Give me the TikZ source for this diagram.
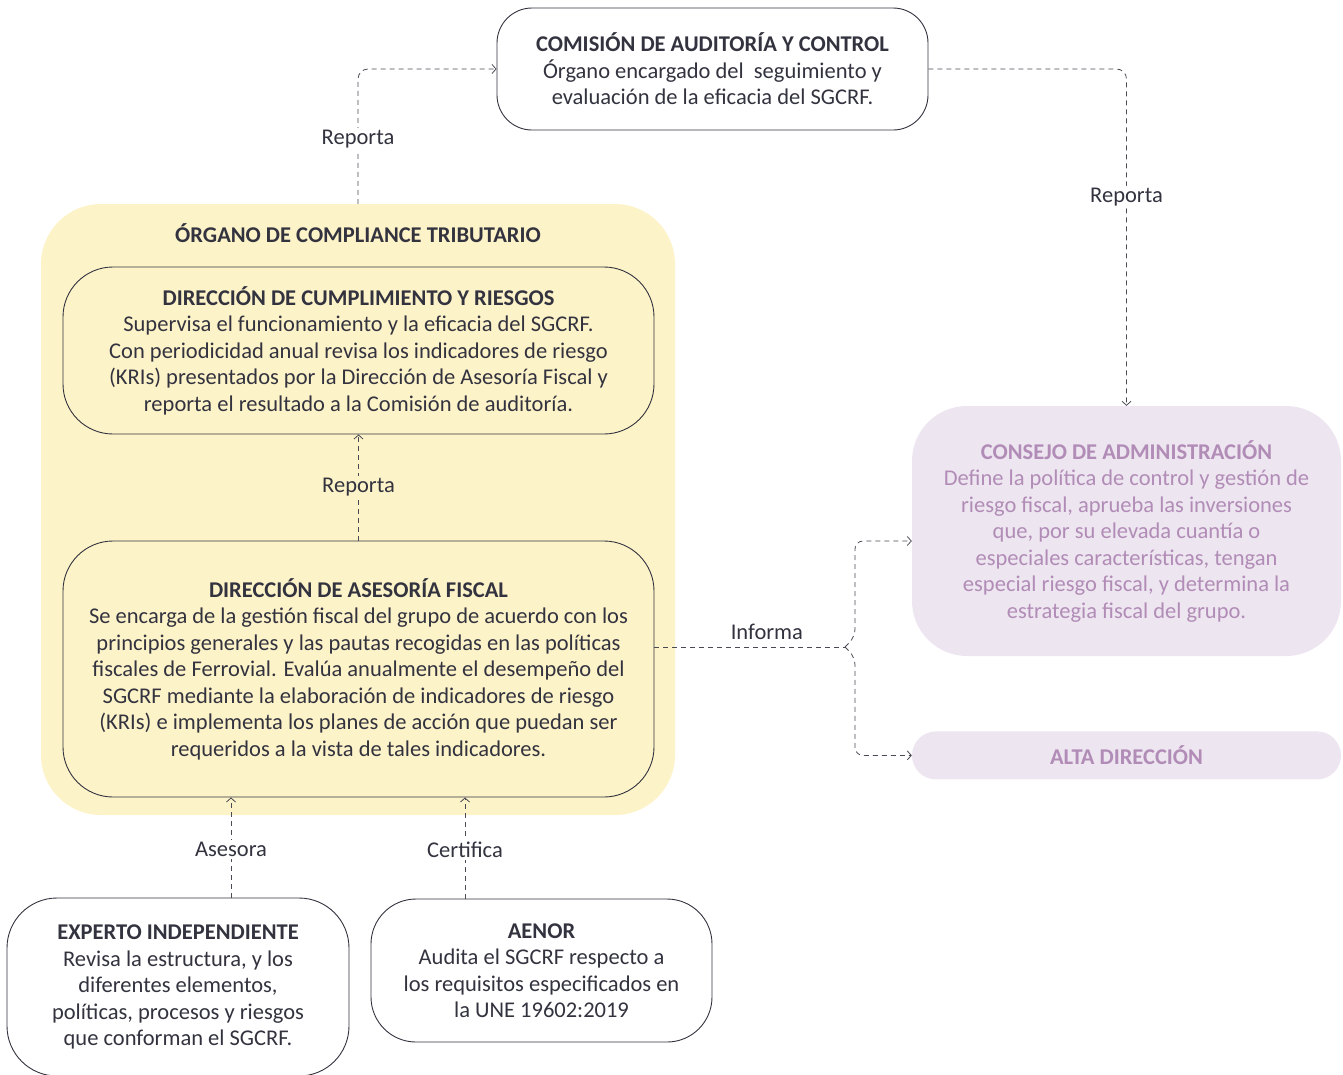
\documentclass[tikz,border=0pt]{standalone}
\usepackage{fontspec}
\setmainfont{Carlito}
\usetikzlibrary{arrows.meta, positioning}
\definecolor{inkgray}{HTML}{33333F}
\definecolor{linegray}{HTML}{4A4A55}
\definecolor{compliance}{HTML}{FDF3C9}
\definecolor{lavender}{HTML}{EDE5EF}
\definecolor{plum}{HTML}{B18CB7}
\tikzset{
  box/.style={rectangle, draw=inkgray, line width=0.9pt, fill=white, text=inkgray, align=center, inner sep=0pt},
  yellowbox/.style={box, fill=compliance, rounded corners=50pt, minimum width=591pt},
  purplebox/.style={rectangle, fill=lavender, text=plum, align=center, inner sep=0pt, minimum width=429pt},
  link/.style={draw=linegray, line width=0.8pt, dash pattern=on 5pt off 4pt, -{Straight Barb[length=4pt, width=9pt]}},
  tag/.style={fill=white, text=inkgray, inner sep=2pt},
}

\begin{document}
\begin{tikzpicture}[x=1pt, y=-1pt, font=\fontsize{22.5}{26.5}\selectfont]
\useasboundingbox (0,0) rectangle (1343,1074);

% compliance group behind
\node[rectangle, fill=compliance, rounded corners=60pt, minimum width=634pt, minimum height=611pt, inner sep=0pt] (organo) at (358,509.5) {};
\node[text=inkgray, font=\fontsize{22.5}{26.5}\selectfont\bfseries] (organotitle) at (358,233) {ÓRGANO DE COMPLIANCE TRIBUTARIO};

\node[box, rounded corners=35pt, minimum width=431pt, minimum height=122pt] (comision) at (712.5,69)
  {\textbf{COMISIÓN DE AUDITORÍA Y CONTROL}\\Órgano encargado del\ \ seguimiento y\\evaluación de la eficacia del SGCRF.};
\node[yellowbox, minimum height=167pt] (cumplimiento) at (358.5,350.5)
  {\textbf{DIRECCIÓN DE CUMPLIMIENTO Y RIESGOS}\\Supervisa el funcionamiento y la eficacia del SGCRF.\\Con periodicidad anual revisa los indicadores de riesgo\\(KRIs) presentados por la Dirección de Asesoría Fiscal y\\reporta el resultado a la Comisión de auditoría.};
\node[yellowbox, minimum height=256pt] (asesoria) at (358.5,669)
  {\textbf{DIRECCIÓN DE ASESORÍA FISCAL}\\Se encarga de la gestión fiscal del grupo de acuerdo con los\\principios generales y las pautas recogidas en las políticas\\fiscales de Ferrovial. Evalúa anualmente el desempeño del\\SGCRF mediante la elaboración de indicadores de riesgo\\(KRIs) e implementa los planes de acción que puedan ser\\requeridos a la vista de tales indicadores.};

\node[purplebox, rounded corners=55pt, minimum height=250pt] (consejo) at (1126.5,531)
  {\textbf{CONSEJO DE ADMINISTRACIÓN}\\Define la política de control y gestión de\\riesgo fiscal, aprueba las inversiones\\que, por su elevada cuantía o\\especiales características, tengan\\especial riesgo fiscal, y determina la\\estrategia fiscal del grupo.};
\node[purplebox, rounded corners=24pt, minimum height=48pt, below=75pt of consejo] (alta) {\textbf{ALTA DIRECCIÓN}};

\node[box, rounded corners=50pt, minimum width=342pt, minimum height=178pt] (experto) at (178,987)
  {\textbf{EXPERTO INDEPENDIENTE}\\Revisa la estructura, y los\\diferentes elementos,\\políticas, procesos y riesgos\\que conforman el SGCRF.};
\node[box, rounded corners=45pt, minimum width=341pt, minimum height=143pt] (aenor) at (541.5,970.5)
  {\textbf{AENOR}\\Audita el SGCRF respecto a\\los requisitos especificados en\\la UNE 19602:2019};

\coordinate (brace) at (845,647);

% reporting lines
\draw[link, rounded corners=10pt] (organo.north) |- node[tag, pos=0.24]{Reporta} (comision.west);
\draw[link, rounded corners=10pt] (comision.east) -| node[tag, pos=0.69]{Reporta} (consejo.north);
\draw[link] (asesoria.north) -- node[tag, fill=compliance]{Reporta} (cumplimiento.south);
\draw[link] ([xshift=53pt]experto.north) -- node[tag, pos=0.48]{Asesora} ([xshift=53pt]experto.north |- asesoria.south);
\draw[link] ([xshift=-76.5pt]aenor.north) -- node[tag, pos=0.48]{Certifica} ([xshift=-76.5pt]aenor.north |- asesoria.south);

% informa
\draw[link, -] ([yshift=22pt]asesoria.east) -- node[above=4pt, pos=0.59, text=inkgray]{Informa} (brace);
\draw[link, rounded corners=8pt] (brace) -- ++(10,-10) |- ([yshift=-10pt]consejo.west);
\draw[link, rounded corners=8pt] (brace) -- ++(10,10) |- (alta.west);
\end{tikzpicture}
\end{document}
